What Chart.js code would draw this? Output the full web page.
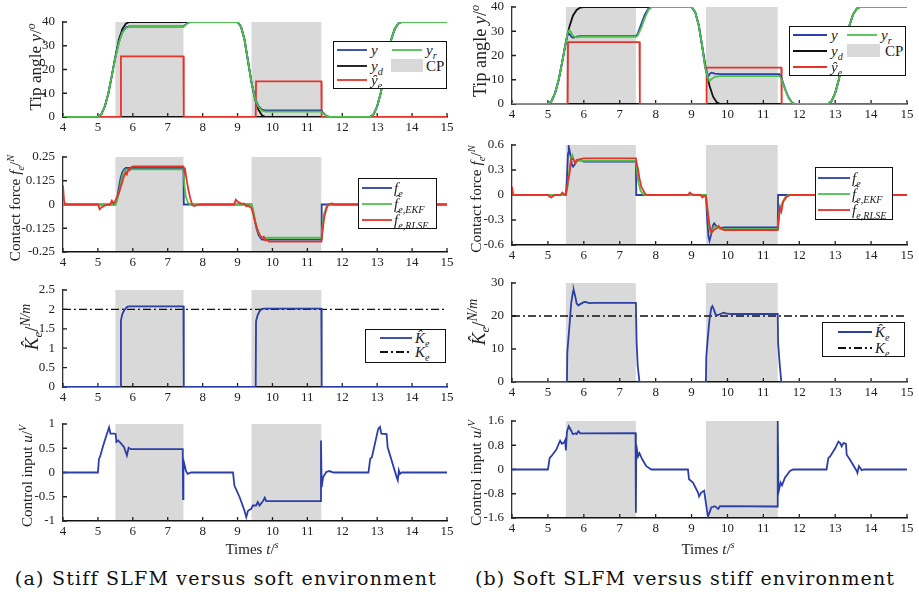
<!DOCTYPE html>
<html>
<head>
<meta charset="utf-8">
<title>SLFM contact estimation</title>
<script src="https://cdn.jsdelivr.net/npm/chart.js@4.4.1/dist/chart.umd.min.js"></script>
<style>
    body { margin: 0; background: #fff; }
    #page { position: relative; width: 919px; height: 596px; overflow: hidden; font-family: "Liberation Serif", "DejaVu Serif", serif; color: #222; }
    #page canvas { position: absolute; }
    .txt { position: absolute; white-space: nowrap; line-height: 1; }
    .ytitle { transform: translate(-50%, -50%) rotate(-90deg); font-size: 15px; }
    .ktitle { transform: translate(-50%, -50%) rotate(-90deg); font-size: 19px; }
    .ktitle sup { font-size: 72%; }
    .xtitle { transform: translate(-50%, -50%); font-size: 15px; }
    .caption { transform: translate(-50%, -50%); font-family: "DejaVu Serif", serif; font-size: 19px; color: #111; }
    .leg { transform: translateY(-50%); font-size: 15px; }
    .legend { position: absolute; border: 1.3px solid #111; background: #fff; box-sizing: border-box; }
    sub, sup { font-size: 68%; line-height: 0; }
</style>
</head>
<body>
<div id="page"></div>
<script>
    const xTicks = [4, 5, 6, 7, 8, 9, 10, 11, 12, 13, 14, 15];
    const cpLeft = [[5.5, 7.45], [9.4, 11.4]];
    const cpRight = [[5.5, 7.45], [9.4, 11.4]];

    // (a) tip angle
    const aAngleTicks = [0, 10, 20, 30, 40];
    const aYd = [[4, 0], [5, 0], [5.1, 1.2], [5.2, 4.5], [5.3, 10], [5.4, 17.5], [5.5, 25.5], [5.6, 32.5], [5.7, 37], [5.8, 39.3], [5.9, 40], [9, 40], [9.1, 38], [9.2, 32.5], [9.3, 23.5], [9.4, 14.5], [9.5, 7.5], [9.6, 3], [9.7, 0.7], [9.8, 0], [12.8, 0], [12.9, 1.2], [13, 4.5], [13.1, 10], [13.2, 17.5], [13.3, 25.5], [13.4, 32.5], [13.5, 37], [13.6, 39.3], [13.7, 40], [15, 40]];
    const aY = [[4, 0], [5, 0], [5.1, 1.2], [5.2, 4.5], [5.3, 10], [5.4, 17.5], [5.5, 25], [5.6, 31.5], [5.7, 35.8], [5.8, 37.7], [5.9, 38.2], [7.45, 38.2], [7.55, 39.4], [7.65, 40], [9, 40], [9.1, 38], [9.2, 32.5], [9.3, 23.5], [9.4, 14.5], [9.5, 8], [9.6, 4.6], [9.7, 3.1], [9.8, 2.8], [11.4, 2.8], [11.45, 1.8], [11.55, 0.5], [11.65, 0], [12.8, 0], [12.9, 1.2], [13, 4.5], [13.1, 10], [13.2, 17.5], [13.3, 25.5], [13.4, 32.5], [13.5, 37], [13.6, 39.3], [13.7, 40], [15, 40]];
    const aYr = [[4, 0], [5, 0], [5.1, 1.2], [5.2, 4.5], [5.3, 10], [5.4, 17.5], [5.5, 25], [5.6, 31.3], [5.7, 35.5], [5.8, 37.4], [5.9, 37.9], [7.45, 37.9], [7.55, 39.3], [7.65, 40], [9, 40], [9.1, 38], [9.2, 32.5], [9.3, 23.5], [9.4, 14.5], [9.5, 7.8], [9.6, 4.2], [9.7, 2.7], [9.8, 2.3], [11.4, 2.3], [11.45, 1.5], [11.55, 0.4], [11.65, 0], [12.8, 0], [12.9, 1.2], [13, 4.5], [13.1, 10], [13.2, 17.5], [13.3, 25.5], [13.4, 32.5], [13.5, 37], [13.6, 39.3], [13.7, 40], [15, 40]];
    const aYe = [[4, 0], [5.65, 0], [5.66, 25.5], [7.45, 25.5], [7.46, 0], [9.52, 0], [9.53, 15], [11.4, 15], [11.41, 0], [15, 0]];

    // (b) tip angle
    const bAngleTicks = [0, 10, 20, 30, 40];
    const bYd = [[4, 0], [5, 0], [5.1, 1.2], [5.2, 4.5], [5.3, 10], [5.4, 17.5], [5.5, 25.5], [5.6, 32], [5.7, 36.5], [5.8, 38.8], [5.9, 39.8], [6, 40], [9, 40], [9.1, 38], [9.2, 32.5], [9.3, 23.5], [9.4, 14.5], [9.5, 7.5], [9.6, 3], [9.7, 0.7], [9.8, 0], [12.8, 0], [12.9, 1.2], [13, 4.5], [13.1, 10], [13.2, 17.5], [13.3, 25.5], [13.4, 32.5], [13.5, 37], [13.6, 39.3], [13.7, 40], [15, 40]];
    const bY = [[4, 0], [5, 0], [5.1, 1.2], [5.2, 4.5], [5.3, 10], [5.4, 17.5], [5.5, 25.5], [5.55, 28.8], [5.6, 29], [5.65, 27.8], [5.7, 27.3], [5.8, 27.8], [5.9, 28], [7.45, 28], [7.5, 29], [7.6, 33], [7.7, 37], [7.8, 39.4], [7.9, 40], [9, 40], [9.1, 38], [9.2, 32.5], [9.3, 23.5], [9.38, 15], [9.45, 11.2], [9.5, 12.3], [9.55, 12.9], [9.65, 12.5], [9.8, 12.3], [11.45, 12.3], [11.5, 11], [11.6, 6.5], [11.7, 2.8], [11.8, 0.6], [11.9, 0], [12.8, 0], [12.9, 1.2], [13, 4.5], [13.1, 10], [13.2, 17.5], [13.3, 25.5], [13.4, 32.5], [13.5, 37], [13.6, 39.3], [13.7, 40], [15, 40]];
    const bYr = [[4, 0], [5, 0], [5.1, 1.2], [5.2, 4.5], [5.3, 10], [5.4, 17.5], [5.5, 25.5], [5.55, 29.5], [5.6, 30.5], [5.65, 29.5], [5.7, 28], [5.8, 27.5], [5.9, 27.7], [7.45, 27.7], [7.5, 28.3], [7.6, 31.5], [7.7, 35.5], [7.8, 38.8], [7.9, 40], [9, 40], [9.1, 38], [9.2, 32.5], [9.3, 23.5], [9.38, 15], [9.45, 11], [9.5, 9.5], [9.55, 10.2], [9.65, 11.2], [9.8, 11.5], [11.45, 11.5], [11.5, 10.3], [11.6, 6], [11.7, 2.5], [11.8, 0.5], [11.9, 0], [12.8, 0], [12.9, 1.2], [13, 4.5], [13.1, 10], [13.2, 17.5], [13.3, 25.5], [13.4, 32.5], [13.5, 37], [13.6, 39.3], [13.7, 40], [15, 40]];
    const bYe = [[4, 0], [5.55, 0], [5.56, 25.5], [7.55, 25.5], [7.56, 0], [9.41, 0], [9.42, 15], [11.5, 15], [11.51, 0], [15, 0]];

    // (a) contact force
    const aForceTicks = [-0.25, -0.125, 0, 0.125, 0.25];
    const aFe = [[4, 0], [5.5, 0], [5.55, 0.03], [5.6, 0.09], [5.65, 0.14], [5.7, 0.17], [5.75, 0.185], [5.8, 0.192], [7.45, 0.192], [7.46, 0], [9.4, 0], [9.45, -0.04], [9.5, -0.09], [9.55, -0.13], [9.6, -0.16], [9.65, -0.175], [9.7, -0.185], [11.4, -0.185], [11.41, 0], [15, 0]];
    const aFekf = [[4, 0], [5, 0], [5.05, -0.005], [5.1, 0], [5.5, 0], [5.55, 0.02], [5.6, 0.06], [5.65, 0.11], [5.7, 0.15], [5.75, 0.175], [5.8, 0.185], [7.45, 0.185], [7.48, 0.1], [7.52, 0.04], [7.58, 0.01], [7.65, 0], [9.4, 0], [9.45, -0.03], [9.5, -0.08], [9.55, -0.12], [9.6, -0.15], [9.65, -0.165], [9.7, -0.175], [11.4, -0.175], [11.43, -0.12], [11.48, -0.05], [11.55, -0.01], [11.62, 0], [15, 0]];
    const aFrlse = [[4, 0.1], [4.03, 0.02], [4.06, 0], [5, 0], [5.05, -0.025], [5.1, -0.015], [5.2, -0.005], [5.35, 0], [5.4, 0.02], [5.45, 0.005], [5.5, 0.02], [5.55, 0.04], [5.6, 0.06], [5.65, 0.09], [5.7, 0.12], [5.75, 0.15], [5.8, 0.17], [5.83, 0.16], [5.87, 0.185], [5.9, 0.18], [5.95, 0.195], [6, 0.2], [7.45, 0.2], [7.48, 0.17], [7.5, 0.18], [7.55, 0.12], [7.6, 0.07], [7.65, 0.03], [7.7, 0], [7.75, -0.008], [7.85, -0.003], [7.9, 0], [8.9, 0], [8.95, 0.025], [9, 0.015], [9.1, 0.005], [9.2, 0.005], [9.25, -0.01], [9.3, -0.005], [9.4, -0.02], [9.45, -0.05], [9.5, -0.09], [9.55, -0.12], [9.6, -0.145], [9.65, -0.165], [9.7, -0.175], [9.75, -0.17], [9.8, -0.19], [9.85, -0.185], [9.9, -0.195], [11.4, -0.195], [11.43, -0.15], [11.48, -0.07], [11.55, -0.02], [11.6, 0], [11.7, 0.005], [11.8, 0], [15, 0]];

    // (b) contact force
    const bForceTicks = [-0.6, -0.3, 0, 0.3, 0.6];
    const bFe = [[4, 0], [5.5, 0], [5.53, 0.2], [5.56, 0.5], [5.58, 0.58], [5.62, 0.5], [5.67, 0.36], [5.7, 0.34], [5.75, 0.37], [5.8, 0.41], [5.9, 0.42], [6, 0.4], [7.45, 0.4], [7.46, 0], [9.4, 0], [9.43, -0.25], [9.47, -0.5], [9.5, -0.55], [9.54, -0.48], [9.6, -0.36], [9.63, -0.34], [9.7, -0.38], [9.8, -0.4], [9.9, -0.39], [11.4, -0.39], [11.41, 0], [15, 0]];
    const bFekf = [[4, 0.03], [4.05, 0], [5.5, 0], [5.55, 0.1], [5.6, 0.3], [5.65, 0.46], [5.68, 0.48], [5.72, 0.42], [5.77, 0.38], [5.85, 0.42], [5.95, 0.41], [7.45, 0.41], [7.48, 0.3], [7.52, 0.15], [7.58, 0.05], [7.65, 0.01], [7.72, 0], [9.4, 0], [9.45, -0.2], [9.5, -0.4], [9.53, -0.45], [9.57, -0.45], [9.62, -0.38], [9.7, -0.38], [9.8, -0.41], [11.4, -0.41], [11.43, -0.25], [11.5, -0.12], [11.6, -0.03], [11.7, 0], [15, 0]];
    const bFrlse = [[4, 0.1], [4.03, 0.01], [4.06, 0], [5, 0], [5.05, -0.02], [5.1, -0.03], [5.15, -0.01], [5.2, 0], [5.35, 0], [5.4, 0.03], [5.45, 0.01], [5.5, 0], [5.55, 0.15], [5.6, 0.25], [5.65, 0.43], [5.68, 0.44], [5.72, 0.42], [5.76, 0.38], [5.8, 0.42], [5.9, 0.43], [6, 0.44], [7.45, 0.44], [7.47, 0.38], [7.5, 0.33], [7.55, 0.2], [7.6, 0.1], [7.7, 0.02], [7.75, 0], [8.9, 0], [8.95, 0.03], [9, 0.01], [9.1, 0], [9.25, 0], [9.3, -0.03], [9.35, -0.01], [9.4, -0.02], [9.45, -0.2], [9.5, -0.36], [9.55, -0.45], [9.62, -0.42], [9.7, -0.4], [9.75, -0.37], [9.82, -0.4], [9.9, -0.42], [11.4, -0.42], [11.43, -0.3], [11.46, -0.15], [11.5, -0.2], [11.55, -0.08], [11.65, -0.02], [11.75, 0], [15, 0]];

    // (a) stiffness
    const aStiffTicks = [0, 0.5, 1, 1.5, 2, 2.5];
    const aKhat = [[4, 0], [5.65, 0], [5.66, 1.72], [5.7, 1.88], [5.75, 1.97], [5.8, 2.03], [5.85, 2.07], [5.9, 2.08], [7.45, 2.08], [7.46, 0], [9.52, 0], [9.53, 1.7], [9.58, 1.86], [9.63, 1.95], [9.68, 2], [9.75, 2.02], [11.4, 2.02], [11.41, 0], [15, 0]];
    const aK = [[4, 2], [15, 2]];

    // (b) stiffness
    const bStiffTicks = [0, 10, 20, 30];
    const bKhat = [[4, 0], [5.53, 0], [5.54, 9], [5.6, 17], [5.65, 24], [5.7, 27.5], [5.72, 27.8], [5.76, 26], [5.8, 23.8], [5.85, 23.2], [5.9, 23.6], [6, 24.2], [6.05, 24.3], [6.15, 23.9], [6.3, 24], [7.45, 24], [7.47, 12], [7.5, 5], [7.55, 0], [9.4, 0], [9.41, 7.5], [9.45, 13], [9.5, 19], [9.55, 22.5], [9.58, 23], [9.62, 22], [9.67, 20.5], [9.72, 20.2], [9.8, 20.6], [9.9, 21], [9.95, 20.8], [10.1, 20.6], [11.4, 20.6], [11.41, 12], [11.45, 6], [11.5, 0], [15, 0]];
    const bK = [[4, 20], [15, 20]];

    // (a) control input
    const aInputTicks = [-1, -0.5, 0, 0.5, 1];
    const aU = [[4, 0], [5, 0], [5.03, 0.28], [5.06, 0.32], [5.15, 0.55], [5.25, 0.78], [5.32, 0.93], [5.36, 0.8], [5.47, 0.8], [5.51, 0.79], [5.53, 0.63], [5.58, 0.66], [5.66, 0.6], [5.75, 0.52], [5.83, 0.35], [5.88, 0.51], [5.94, 0.48], [7.43, 0.48], [7.44, -0.55], [7.45, 0.25], [7.52, 0.04], [7.57, -0.03], [7.67, 0], [8.87, 0], [8.91, -0.27], [9.06, -0.51], [9.2, -0.79], [9.25, -0.92], [9.3, -0.79], [9.39, -0.75], [9.44, -0.68], [9.53, -0.68], [9.58, -0.61], [9.63, -0.68], [9.73, -0.59], [9.78, -0.52], [9.82, -0.59], [11.38, -0.59], [11.39, 0.66], [11.41, -0.3], [11.45, -0.1], [11.54, 0.01], [11.63, 0.03], [11.75, 0], [12.75, 0], [12.8, 0.28], [12.85, 0.32], [13.03, 0.9], [13.08, 0.94], [13.12, 0.8], [13.27, 0.79], [13.3, 0.52], [13.56, -0.1], [13.59, -0.16], [13.62, 0.04], [13.65, -0.03], [13.7, 0], [15, 0]];

    // (b) control input
    const bInputTicks = [-1.6, -0.8, 0, 0.8, 1.6];
    const bU = [[4, 0], [5, 0], [5.05, 0.38], [5.09, 0.43], [5.23, 0.65], [5.34, 0.95], [5.39, 0.85], [5.45, 0.89], [5.48, 0.97], [5.5, 0.63], [5.53, 1.25], [5.58, 1.43], [5.65, 1.28], [5.69, 1.17], [5.77, 1.19], [5.8, 1.17], [5.85, 1.26], [5.9, 1.19], [7.44, 1.2], [7.45, -1.43], [7.46, 0.81], [7.51, 0.43], [7.55, 0.54], [7.63, 0.33], [7.74, 0.11], [7.88, 0], [8.9, 0], [8.93, -0.32], [9.04, -0.43], [9.18, -0.76], [9.21, -0.89], [9.27, -0.76], [9.35, -0.7], [9.39, -1.03], [9.43, -1.35], [9.46, -1.54], [9.51, -1.39], [9.55, -1.25], [9.65, -1.21], [9.74, -1.3], [9.79, -1.21], [11.39, -1.22], [11.4, 1.6], [11.42, -0.76], [11.48, -0.43], [11.52, -0.52], [11.6, -0.27], [11.74, -0.05], [11.83, 0], [12.76, 0], [12.81, 0.38], [12.86, 0.43], [13, 0.7], [13.09, 0.92], [13.14, 0.87], [13.18, 0.76], [13.23, 0.87], [13.3, 0.85], [13.32, 0.49], [13.41, 0.33], [13.6, -0.05], [13.62, -0.11], [13.66, 0.11], [13.74, -0.02], [13.8, 0], [15, 0]];

    const BLUE = '#2c3fa6';
    const GREEN = '#4cc14c';
    const RED = '#e6332a';
    const BLACK = '#111111';
    const SHADE = '#d9d9d9';
    const TICK_FONT = { family: '"Liberation Serif", serif', size: 13 };

    const page = document.getElementById('page');

    // shaded contact phases below the axes, inward tick marks above them
    const deco = {
        id: 'deco',
        beforeDraw(chart, args, opts) {
            const { ctx, chartArea: a, scales: { x } } = chart;
            ctx.save();
            ctx.fillStyle = SHADE;
            opts.spans.forEach(([s, e]) => {
                const x0 = x.getPixelForValue(s);
                const x1 = x.getPixelForValue(e);
                ctx.fillRect(x0, a.top, x1 - x0, a.bottom - a.top);
            });
            ctx.restore();
        },
        beforeDatasetsDraw(chart) {
            const { ctx, chartArea: a, scales: { x, y } } = chart;
            ctx.save();
            ctx.strokeStyle = '#222';
            ctx.lineWidth = 1.3;
            ctx.beginPath();
            x.ticks.forEach(t => {
                const px = x.getPixelForValue(t.value);
                ctx.moveTo(px, a.bottom);
                ctx.lineTo(px, a.bottom - 4);
            });
            y.ticks.forEach(t => {
                const py = y.getPixelForValue(t.value);
                ctx.moveTo(a.left, py);
                ctx.lineTo(a.left + 4, py);
            });
            ctx.stroke();
            ctx.restore();
        }
    };

    function line(points, color, extra) {
        return Object.assign({
            data: points.map(p => ({ x: p[0], y: p[1] })),
            borderColor: color,
            borderWidth: 1.8,
            pointRadius: 0,
            tension: 0,
            fill: false
        }, extra || {});
    }

    // plotTop/plotBottom are the pixel rows of the chart area on the page
    function makePanel(col, plotTop, plotBottom, yMin, yMax, yTicks, spans, datasets) {
        const top = plotTop - 16;
        const canvas = document.createElement('canvas');
        canvas.width = col.w;
        canvas.height = plotBottom - top + 25;
        canvas.style.left = col.left + 'px';
        canvas.style.top = top + 'px';
        page.appendChild(canvas);

        new Chart(canvas.getContext('2d'), {
            type: 'line',
            data: { datasets: datasets },
            plugins: [deco],
            options: {
                responsive: false,
                animation: false,
                events: [],
                layout: { padding: { top: 16, right: 11, left: 0, bottom: 0 } },
                plugins: {
                    legend: { display: false },
                    tooltip: { enabled: false },
                    deco: { spans: spans }
                },
                scales: {
                    x: {
                        type: 'linear', min: 4, max: 15,
                        afterBuildTicks: s => { s.ticks = xTicks.map(v => ({ value: v })); },
                        afterFit: s => { s.height = 25; },
                        grid: { display: false, drawTicks: false },
                        border: { color: '#111', width: 1.6 },
                        ticks: { padding: 3, color: '#222', font: TICK_FONT, maxRotation: 0, autoSkip: false }
                    },
                    y: {
                        type: 'linear', min: yMin, max: yMax,
                        afterBuildTicks: s => { s.ticks = yTicks.map(v => ({ value: v })); },
                        afterFit: s => { s.width = col.yw; },
                        grid: { display: false, drawTicks: false },
                        border: { color: '#333', width: 1.3 },
                        ticks: { padding: 8, color: '#222', font: TICK_FONT, autoSkip: false, callback: v => String(v) }
                    }
                }
            }
        });
    }

    function text(cls, x, y, html) {
        const d = document.createElement('div');
        d.className = 'txt ' + cls;
        d.style.left = x + 'px';
        d.style.top = y + 'px';
        d.innerHTML = html;
        page.appendChild(d);
        return d;
    }

    function legendBox(x, y, w, h) {
        const d = document.createElement('div');
        d.className = 'legend';
        Object.assign(d.style, { left: x + 'px', top: y + 'px', width: w + 'px', height: h + 'px' });
        page.appendChild(d);
    }

    function legendLine(x1, x2, y, color, dash) {
        const ns = 'http://www.w3.org/2000/svg';
        const svg = document.createElementNS(ns, 'svg');
        svg.setAttribute('width', x2 - x1);
        svg.setAttribute('height', 6);
        Object.assign(svg.style, { position: 'absolute', left: x1 + 'px', top: (y - 3) + 'px' });
        const l = document.createElementNS(ns, 'line');
        l.setAttribute('x1', 0); l.setAttribute('x2', x2 - x1);
        l.setAttribute('y1', 3); l.setAttribute('y2', 3);
        l.setAttribute('stroke', color);
        l.setAttribute('stroke-width', 1.8);
        if (dash) l.setAttribute('stroke-dasharray', dash);
        svg.appendChild(l);
        page.appendChild(svg);
    }

    function legendPatch(x, y, w, h) {
        const d = document.createElement('div');
        Object.assign(d.style, { position: 'absolute', left: x + 'px', top: y + 'px', width: w + 'px', height: h + 'px', background: SHADE });
        page.appendChild(d);
    }

    // stretch a caption to the reference width with letter spacing
    function fitSpacing(el, target) {
        const n = el.textContent.length;
        el.style.letterSpacing = ((target - el.offsetWidth) / n) + 'px';
    }

    // scale an axis title so its run length matches the reference
    function fitSize(el, target) {
        const fs = parseFloat(getComputedStyle(el).fontSize);
        el.style.fontSize = (fs * target / el.offsetWidth) + 'px';
    }

    const L = { left: 0, w: 458, yw: 63 };
    const R = { left: 460, w: 458, yw: 52 };

    makePanel(L, 22, 117, 0, 40, aAngleTicks, cpLeft, [
        line(aYr, GREEN), line(aY, BLUE), line(aYe, RED), line(aYd, BLACK)
    ]);
    makePanel(R, 7, 104, 0, 40, bAngleTicks, cpRight, [
        line(bYr, GREEN), line(bY, BLUE), line(bYe, RED), line(bYd, BLACK)
    ]);
    makePanel(L, 157, 252, -0.25, 0.25, aForceTicks, cpLeft, [
        line(aFrlse, RED), line(aFekf, GREEN), line(aFe, BLUE)
    ]);
    makePanel(R, 145, 245, -0.6, 0.6, bForceTicks, cpRight, [
        line(bFrlse, RED), line(bFekf, GREEN), line(bFe, BLUE)
    ]);
    makePanel(L, 290, 387, 0, 2.5, aStiffTicks, cpLeft, [
        line(aKhat, BLUE), line(aK, BLACK, { borderWidth: 1.3, borderDash: [8, 3, 2, 3] })
    ]);
    makePanel(R, 283, 382, 0, 30, bStiffTicks, cpRight, [
        line(bKhat, BLUE), line(bK, BLACK, { borderWidth: 1.3, borderDash: [8, 3, 2, 3] })
    ]);
    makePanel(L, 424, 521, -1, 1, aInputTicks, cpLeft, [
        line(aU, BLUE)
    ]);
    makePanel(R, 421, 518, -1.6, 1.6, bInputTicks, cpRight, [
        line(bU, BLUE)
    ]);

    // axis titles
    fitSize(text('ytitle', 36, 67, 'Tip angle <i>y</i>/<sup><i>o</i></sup>'), 87);
    fitSize(text('ytitle', 480, 51, 'Tip angle <i>y</i>/<sup><i>o</i></sup>'), 92);
    fitSize(text('ytitle', 15, 208, 'Contact force <i>f</i><sub><i>e</i></sub>/<sup><i>N</i></sup>'), 107);
    fitSize(text('ytitle', 476, 199, 'Contact force <i>f</i><sub><i>e</i></sub>/<sup><i>N</i></sup>'), 108);
    text('ktitle', 31, 327, '<i>K̂</i><sub><i>e</i></sub>/<sup><i>N/m</i></sup>');
    text('ktitle', 478, 322, '<i>K̂</i><sub><i>e</i></sub>/<sup><i>N/m</i></sup>');
    fitSize(text('ytitle', 27, 476, 'Control input <i>u</i>/<sup><i>V</i></sup>'), 102);
    fitSize(text('ytitle', 476, 473, 'Control input <i>u</i>/<sup><i>V</i></sup>'), 106);
    text('xtitle', 252, 549, 'Times <i>t</i>/<sup><i>s</i></sup>');
    text('xtitle', 708, 549, 'Times <i>t</i>/<sup><i>s</i></sup>');

    // legends, tip angle
    legendBox(333, 41, 114, 48);
    legendLine(337, 367, 50, BLUE); text('leg', 371, 50, '<i>y</i>');
    legendLine(392, 422, 50, GREEN); text('leg', 426, 50, '<i>y</i><sub><i>r</i></sub>');
    legendLine(337, 367, 66, BLACK); text('leg', 371, 66, '<i>y</i><sub><i>d</i></sub>');
    legendPatch(391, 59, 32, 13); text('leg', 426, 66, 'CP');
    legendLine(337, 367, 80, RED); text('leg', 371, 80, '<i>ŷ</i><sub><i>e</i></sub>');

    legendBox(789, 26, 117, 50);
    legendLine(793, 827, 35, BLUE); text('leg', 831, 35, '<i>y</i>');
    legendLine(847, 877, 35, GREEN); text('leg', 881, 35, '<i>y</i><sub><i>r</i></sub>');
    legendLine(793, 827, 51, BLACK); text('leg', 831, 51, '<i>y</i><sub><i>d</i></sub>');
    legendPatch(847, 44, 33, 13); text('leg', 885, 51, 'CP');
    legendLine(793, 827, 67, RED); text('leg', 831, 67, '<i>ŷ</i><sub><i>e</i></sub>');

    // legends, contact force
    legendBox(358, 178, 79, 51);
    legendLine(362, 392, 188, BLUE); text('leg', 394, 188, '<i>f</i><sub><i>e</i></sub>');
    legendLine(362, 392, 204, GREEN); text('leg', 394, 204, '<i>f̂</i><sub><i>e,EKF</i></sub>');
    legendLine(362, 392, 220, RED); text('leg', 394, 220, '<i>f̂</i><sub><i>e,RLSE</i></sub>');

    legendBox(815, 167, 78, 53);
    legendLine(818, 850, 178, BLUE); text('leg', 852, 178, '<i>f</i><sub><i>e</i></sub>');
    legendLine(818, 850, 194, GREEN); text('leg', 852, 194, '<i>f̂</i><sub><i>e,EKF</i></sub>');
    legendLine(818, 850, 210, RED); text('leg', 852, 210, '<i>f̂</i><sub><i>e,RLSE</i></sub>');

    // legends, stiffness
    legendBox(365, 329, 81, 34);
    legendLine(380, 412, 338, BLUE); text('leg', 415, 338, '<i>K̂</i><sub><i>e</i></sub>');
    legendLine(380, 412, 352, BLACK, '8,3,2,3'); text('leg', 415, 352, '<i>K</i><sub><i>e</i></sub>');

    legendBox(822, 322, 83, 35);
    legendLine(838, 872, 332, BLUE); text('leg', 875, 332, '<i>K̂</i><sub><i>e</i></sub>');
    legendLine(838, 872, 348, BLACK, '8,3,2,3'); text('leg', 875, 348, '<i>K</i><sub><i>e</i></sub>');

    // captions
    fitSpacing(text('caption', 226, 578, '(a) Stiff SLFM versus soft environment'), 422);
    fitSpacing(text('caption', 685, 578, '(b) Soft SLFM versus stiff environment'), 420);
</script>
</body>
</html>
